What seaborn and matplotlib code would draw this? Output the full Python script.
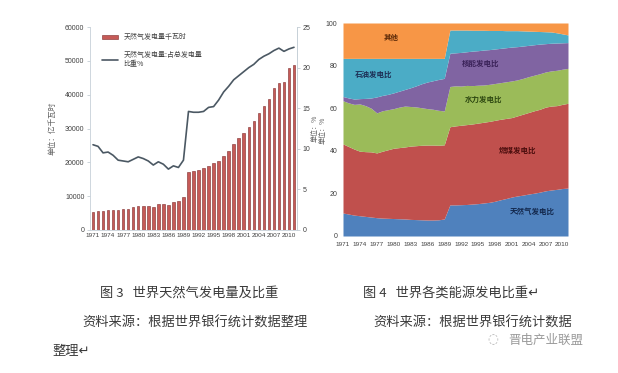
import matplotlib
matplotlib.use("Agg")
import matplotlib.pyplot as plt
from matplotlib.patches import Patch
from matplotlib.lines import Line2D
import numpy as np
import pandas as pd
import seaborn as sns

# ---- data ----
years = list(range(1971, 2012))

# 图3: 天然气发电量 (亿千瓦时) and 占总发电量比重 (%)
gas_gen = [5300, 5600, 5700, 5800, 5800, 5900, 6300, 6300, 6900, 7200,
           7200, 7100, 6900, 7700, 7700, 7500, 8200, 8500, 9800, 17200,
           17500, 17800, 18300, 19000, 19800, 20400, 21900, 23400, 25400, 27200,
           28700, 30500, 32200, 34600, 36700, 38700, 42000, 43500, 43800, 47900,
           48800]
gas_pct = [10.5, 10.3, 9.5, 9.6, 9.2, 8.6, 8.5, 8.4, 8.7, 9.0,
           8.8, 8.5, 8.0, 8.4, 8.1, 7.5, 7.9, 7.7, 8.6, 14.6,
           14.5, 14.5, 14.6, 15.1, 15.2, 16.0, 17.0, 17.7, 18.5, 19.0,
           19.5, 20.0, 20.4, 21.0, 21.4, 21.7, 22.1, 22.4, 22.0, 22.3,
           22.5]

# 图4: 各类能源发电比 (%)
share_gas = [10.8, 10.3, 9.8, 9.5, 9.2, 8.9, 8.6, 8.4, 8.3, 8.2,
             8.1, 8.0, 7.8, 7.7, 7.6, 7.5, 7.5, 7.6, 8.0, 14.6,
             14.6, 14.7, 14.8, 15.0, 15.2, 15.5, 15.8, 16.3, 17.0, 17.6,
             18.3, 18.8, 19.2, 19.7, 20.1, 20.6, 21.2, 21.6, 21.9, 22.3,
             22.5]
share_coal = [32.4, 31.7, 31.0, 30.3, 30.4, 30.6, 30.4, 31.4, 32.2, 33.0,
              33.4, 33.8, 34.4, 34.7, 35.0, 35.2, 35.2, 35.0, 34.8, 36.7,
              37.1, 37.3, 37.5, 37.6, 37.8, 37.9, 38.0, 38.0, 37.8, 37.6,
              37.3, 37.6, 38.0, 38.3, 38.7, 38.9, 39.3, 39.4, 39.3, 39.5,
              39.8]
share_hydro = [20.3, 20.5, 21.0, 22.2, 21.6, 20.5, 18.8, 19.0, 18.8, 18.6,
               19.0, 19.2, 18.6, 18.2, 17.6, 17.1, 16.8, 16.4, 15.9, 18.9,
               18.8, 18.4, 18.4, 18.0, 17.8, 17.5, 17.4, 17.3, 17.2, 17.2,
               17.2, 16.9, 16.8, 16.8, 16.7, 16.7, 16.5, 16.5, 16.6, 16.5,
               16.4]
share_nuclear = [2.0, 2.3, 2.5, 2.5, 3.4, 4.8, 7.5, 7.2, 7.2, 7.4,
                 7.5, 7.8, 8.8, 9.9, 11.3, 12.5, 13.4, 14.5, 15.3, 15.6,
                 15.5, 15.8, 15.8, 16.2, 16.2, 16.4, 16.3, 16.2, 16.1, 16.0,
                 15.9, 15.6, 15.2, 14.7, 14.3, 13.9, 13.3, 13.0, 12.8, 12.4,
                 12.1]
share_oil = [17.9, 18.6, 19.1, 18.9, 18.8, 18.6, 18.1, 17.4, 16.9, 16.2,
             15.4, 14.6, 13.8, 12.9, 11.9, 11.1, 10.5, 9.9, 9.4, 10.9,
             10.7, 10.5, 10.2, 9.8, 9.6, 9.3, 9.0, 8.7, 8.4, 8.0,
             7.7, 7.5, 7.1, 6.7, 6.3, 5.9, 5.6, 5.3, 4.8, 4.2,
             3.6]
share_other = [16.6, 16.6, 16.6, 16.6, 16.6, 16.6, 16.6, 16.6, 16.6, 16.6,
               16.6, 16.6, 16.6, 16.6, 16.6, 16.6, 16.6, 16.6, 16.6, 3.3,
               3.3, 3.3, 3.3, 3.4, 3.4, 3.4, 3.5, 3.5, 3.5, 3.6,
               3.6, 3.6, 3.7, 3.8, 3.9, 4.0, 4.1, 4.2, 4.6, 5.1,
               5.6]
share_colors = ["#4f81bd", "#c0504d", "#9bbb59", "#8064a2", "#4bacc6", "#f79646"]

# ---- style ----
sns.set_theme(style="white")
plt.rcParams['font.family'] = ['Noto Sans CJK SC', 'DejaVu Sans']
tick_font = ['Liberation Sans Narrow', 'Liberation Sans', 'DejaVu Sans']
W, H = 618, 373

fig = plt.figure(figsize=(6.18, 3.73), dpi=100)
fig.patch.set_facecolor("white")

# ---------- left chart ----------
ax1 = fig.add_axes([90 / W, 1 - 230 / H, 207 / W, 203 / H])
df = pd.DataFrame({"year": [str(y) for y in years], "gen": gas_gen,
                   "pct": gas_pct, "pos": np.arange(len(years))})
sns.barplot(data=df, x="year", y="gen", color="#c65a57", width=0.5,
            edgecolor="#7d2a2a", linewidth=0.4, saturation=1, ax=ax1)
ax1.set_xlim(-0.6, len(years) - 0.4)
ax1.set_ylim(0, 60000)
ax1.set_yticks(range(0, 60001, 10000))
ax1.set_xticks(range(0, len(years), 3))
ax1.set_xticklabels(df["year"][::3], fontsize=4.6, family=tick_font, color="#404040")
ax1.set_yticklabels([str(v) for v in range(0, 60001, 10000)], fontsize=5,
                    family=tick_font, color="#404040")
ax1.set_xlabel("")
ax1.set_ylabel("单位：亿千瓦时", fontsize=5.5, color="#606060", labelpad=6)
ax1.tick_params(axis="x", length=0, pad=2)
ax1.tick_params(axis="y", length=2, width=0.5, color="#b8c4cc", pad=2)
ax1.spines["top"].set_visible(False)
for s in ["left", "right", "bottom"]:
    ax1.spines[s].set_color("#c6d0d8")
    ax1.spines[s].set_linewidth(0.6)

ax2 = ax1.twinx()
sns.lineplot(data=df, x="pos", y="pct", color="#4b5863", linewidth=1.2, ax=ax2)
ax2.set_ylim(0, 25)
ax2.set_xlim(ax1.get_xlim())
ax2.set_yticks(range(0, 26, 5))
ax2.set_yticklabels([str(v) for v in range(0, 26, 5)], fontsize=5,
                    family=tick_font, color="#404040")
ax2.set_ylabel("单位：%", fontsize=5, color="#606060", rotation=90)
ax2.yaxis.set_label_position("right")
ax2.yaxis.set_label_coords((311 - 90) / 207, (230 - 128) / 203)
ax2.tick_params(axis="y", length=2, width=0.5, color="#b8c4cc", pad=2)
for s in ["top", "left", "bottom"]:
    ax2.spines[s].set_visible(False)
ax2.spines["right"].set_color("#c6d0d8")
ax2.spines["right"].set_linewidth(0.6)

handles = [Patch(facecolor="#c65a57", edgecolor="#7d2a2a", linewidth=0.4),
           Line2D([], [], color="#4b5863", linewidth=1.2)]
ax2.legend(handles, ["天然气发电量千瓦时", "天然气发电量:占总发电量\n比重%"],
           loc="upper left", bbox_to_anchor=(0.03, 1.0), frameon=False,
           fontsize=5, handlelength=2.2, handleheight=0.6, labelspacing=1.4,
           labelcolor="#404040")

# ---------- right chart ----------
ax3 = fig.add_axes([343 / W, 1 - 236 / H, 225 / W, 213 / H])
ax3.stackplot(years, share_gas, share_coal, share_hydro, share_nuclear,
              share_oil, share_other, colors=share_colors, linewidth=0)
ax3.set_xlim(years[0], years[-1])
ax3.set_ylim(0, 100)
ax3.set_yticks(range(0, 101, 20))
ax3.set_yticklabels([str(v) for v in range(0, 101, 20)], fontsize=5,
                    family=tick_font, color="#404040")
ax3.set_xticks(years[::3])
ax3.set_xticklabels([str(y) for y in years[::3]], fontsize=4.6,
                    family=tick_font, color="#404040")
ax3.tick_params(length=0, pad=4)
ax3.set_ylabel("单位：%", fontsize=5, color="#606060")
ax3.yaxis.set_label_coords((327 - 343) / 225, (236 - 130) / 213)
for s in ax3.spines.values():
    s.set_visible(False)

area_labels = [("其他", 1979.5, 93, "#5c2a08"),
               ("石油发电比", 1976.5, 76, "#1d2f55"),
               ("核能发电比", 1995.5, 81, "#3a2258"),
               ("水力发电比", 1996.0, 64, "#2f4a12"),
               ("燃煤发电比", 2002.0, 40, "#4a0d0d"),
               ("天然气发电比", 2004.7, 11.5, "#13284d")]
for txt, x, y, c in area_labels:
    ax3.text(x, y, txt, fontsize=5.4, fontweight="bold", color=c,
             ha="center", va="center")

# ---------- captions ----------
cap = dict(fontsize=9.5, color="#3a3a3a", va="center", ha="left")
fig.text(100 / W, 1 - 293 / H, "图 3   世界天然气发电量及比重", **cap)
fig.text(363 / W, 1 - 293 / H, "图 4   世界各类能源发电比重↵", **cap)
fig.text(82 / W, 1 - 323 / H, "资料来源：根据世界银行统计数据整理", **cap)
fig.text(373 / W, 1 - 323 / H, "资料来源：根据世界银行统计数据", **cap)
fig.text(52 / W, 1 - 352 / H, "整理↵", **cap)
fig.text(508 / W, 1 - 340 / H, "晋电产业联盟", fontsize=9, color="#9a9a9a",
         va="center", ha="left")
fig.text(493 / W, 1 - 340 / H, "◌", fontsize=9, color="#b0b0b0",
         va="center", ha="center", family=["DejaVu Sans"])

fig.savefig("out.png", dpi=100, facecolor="white")
